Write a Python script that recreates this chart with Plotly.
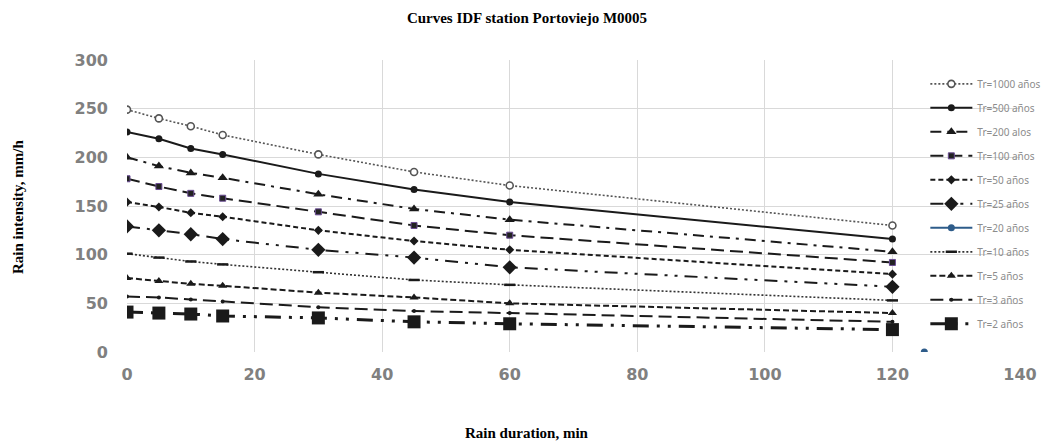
import plotly.graph_objects as go

durations = [0, 5, 10, 15, 30, 45, 60, 120]

tr1000 = [249, 240, 232, 223, 203, 185, 171, 130]
tr500 = [226, 219, 209, 203, 183, 167, 154, 116]
tr200 = [200, 191, 184, 179, 162, 147, 136, 103]
tr100 = [178, 170, 163, 158, 144, 130, 120, 92]
tr50 = [154, 149, 143, 139, 125, 114, 105, 80]
tr25 = [129, 125, 121, 116, 105, 97, 87, 67]
tr20_x = [125]
tr20 = [0]
tr10 = [101, 97, 93, 90, 82, 74, 69, 53]
tr5 = [76, 73, 70, 68, 61, 56, 50, 40]
tr3 = [57, 56, 54, 52, 46, 42, 40, 31]
tr2 = [41, 40, 39, 37, 35, 31, 29, 23]

names = ["Tr=1000 años", "Tr=500 años", "Tr=200 alos", "Tr=100 años", "Tr=50 años",
         "Tr=25 años", "Tr=20 años", "Tr=10 años", "Tr=5 años", "Tr=3 años", "Tr=2 años"]

K = "#1a1a1a"
series = [
    (durations, tr1000, dict(color="#555555", width=1.6, dash="2px,2px"),
     dict(symbol="circle", size=7, color="white", line=dict(color="#555555", width=1.6))),
    (durations, tr500, dict(color=K, width=2, dash="solid"),
     dict(symbol="circle", size=7, color=K)),
    (durations, tr200, dict(color=K, width=2, dash="11px,6px,3px,6px"),
     dict(symbol="triangle-up", size=9, color=K)),
    (durations, tr100, dict(color=K, width=2, dash="13px,6px"),
     dict(symbol="square", size=6, color="#222222", line=dict(color="#6a4c93", width=1))),
    (durations, tr50, dict(color=K, width=2, dash="5px,3px"),
     dict(symbol="diamond", size=7, color=K)),
    (durations, tr25, dict(color=K, width=2, dash="13px,7px,3px,7px,3px,7px"),
     dict(symbol="diamond", size=11, color=K)),
    (tr20_x, tr20, dict(color="#2e5c8a", width=2, dash="solid"),
     dict(symbol="circle", size=7, color="#2e5c8a")),
    (durations, tr10, dict(color="#333333", width=1.6, dash="2px,2px"),
     dict(symbol="line-ew", size=8, color=K, line=dict(color=K, width=2.5))),
    (durations, tr5, dict(color=K, width=2, dash="6px,3px"),
     dict(symbol="triangle-up", size=8, color=K)),
    (durations, tr3, dict(color=K, width=2, dash="13px,6px"),
     dict(symbol="circle", size=4, color=K)),
    (durations, tr2, dict(color=K, width=3, dash="16px,8px,3px,8px,3px,8px"),
     dict(symbol="square", size=13, color=K)),
]

fig = go.Figure()
for i, (xs, ys, ln, mk) in enumerate(series):
    fig.add_trace(go.Scatter(x=xs, y=ys, name=names[i], mode="lines+markers",
                             line=ln, marker=mk, legendgroup=f"g{i}"))

# page body has an 8px margin; figure is sized/offset to compensate
W, H = 1045, 436
serif = dict(family="Liberation Serif", size=15, color="black")
tickfont = dict(family="DejaVu Sans", size=16, color="#808080", weight="bold")
fig.update_layout(
    width=W, height=H,
    margin=dict(l=119, r=33, t=52, b=92, autoexpand=False),
    paper_bgcolor="white", plot_bgcolor="white",
    title=dict(text="<b>Curves IDF station Portoviejo M0005</b>", x=(527 - 8) / W,
               xanchor="center", xref="container", y=1 - 10 / H, yref="container",
               yanchor="middle", font=serif),
    showlegend=True,
    legend=dict(x=0.894, y=0.968, xanchor="left", yanchor="top",
                bgcolor="rgba(0,0,0,0)", font=dict(family="Noto Sans", size=10, color="#8c8c8c"),
                tracegroupgap=5, itemwidth=42, traceorder="grouped"),
    xaxis=dict(range=[0, 140], dtick=20, showgrid=True, gridcolor="#d9d9d9", gridwidth=1,
               zeroline=False, showline=False, tickfont=tickfont, ticklabelstandoff=11,
               automargin=False),
    yaxis=dict(range=[0, 300], dtick=50, showgrid=True, gridcolor="#d9d9d9", gridwidth=1,
               zeroline=False, showline=False, tickfont=tickfont, ticklabelstandoff=18,
               automargin=False),
    annotations=[
        dict(text="<b>Rain duration, min</b>", xref="paper", yref="paper",
             x=(527 - 127) / 893, y=-(433 - 352) / 292, xanchor="center", yanchor="middle",
             showarrow=False, font=serif),
        dict(text="<b>Rain intensity, mm/h</b>", xref="paper", yref="paper",
             x=-(127 - 18) / 893, y=(352 - 207) / 292, xanchor="center", yanchor="middle",
             textangle=-90, showarrow=False, font=serif),
    ],
)
fig.write_html("out.html")
